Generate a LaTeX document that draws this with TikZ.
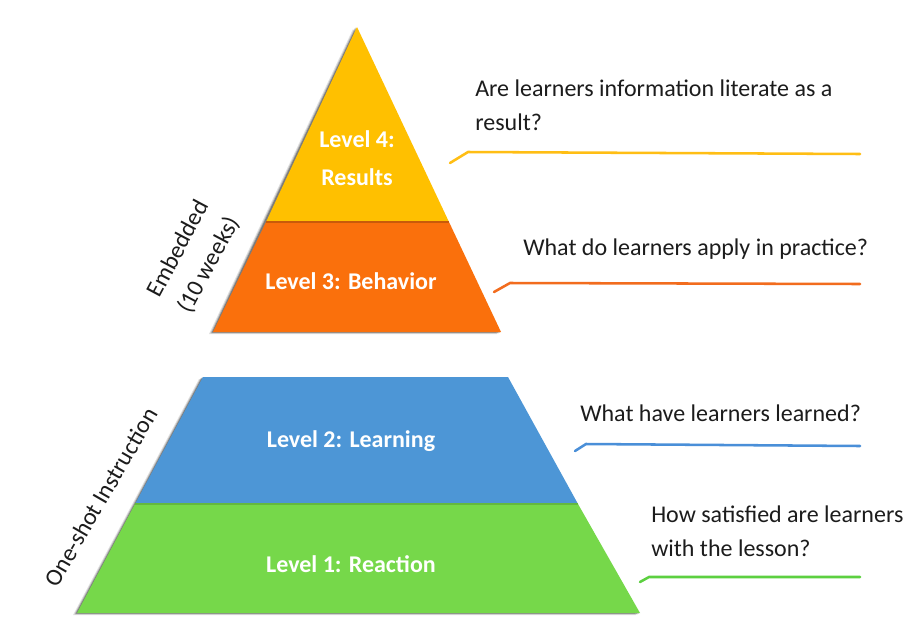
\documentclass[tikz,border=0pt]{standalone}
\usepackage{fontspec}
\setmainfont{Carlito}
\definecolor{cyel}{RGB}{255,192,0}
\definecolor{corg}{RGB}{250,112,12}
\definecolor{cblu}{RGB}{77,150,214}
\definecolor{cgrn}{RGB}{118,216,74}
\definecolor{ctxt}{RGB}{28,28,28}
\definecolor{lyel}{RGB}{255,190,20}
\definecolor{lorg}{RGB}{242,108,30}
\definecolor{lblu}{RGB}{74,143,216}
\definecolor{lgrn}{RGB}{92,208,64}
\begin{document}
\begin{tikzpicture}[x=0.75pt,y=-0.75pt,
  lvl/.style={text=white,font=\fontsize{18}{29}\selectfont\bfseries,align=center,inner sep=0},
  qtext/.style={text=ctxt,font=\fontsize{18}{25.5}\selectfont,anchor=west,align=left,inner sep=0},
  side/.style={text=ctxt,font=\fontsize{18}{26}\selectfont,align=center,inner sep=0},
  lead/.style={line width=1.9pt,line join=round,line cap=round},
  shade/.style={fill=black}]
\useasboundingbox (0,0) rectangle (909,618);
\fill[white] (0,0) rectangle (909,618);

% shadows
\foreach \d/\o in {4/0.12,2.5/0.2,1.2/0.3}{
  \fill[shade,opacity=\o,shift={(-\d,\d*0.5)}] (357,27) -- (501,332) -- (213,332) -- cycle;
  \fill[shade,opacity=\o,shift={(-\d,\d*0.5)}] (203,377) -- (508,377) -- (640,613) -- (77,613) -- cycle;
}
% upper pyramid
\fill[cyel] (357,27) -- (449,222) -- (266,222) -- cycle;
\fill[corg] (266,222) -- (449,222) -- (501,332) -- (213,332) -- cycle;
\draw[corg!80!black,line width=0.8pt] (266,222) -- (449,222);
% lower trapezoid
\fill[cblu] (203,377) -- (508,377) -- (578,504) -- (135,504) -- cycle;
\fill[cgrn] (135,504) -- (578,504) -- (640,613) -- (77,613) -- cycle;
\draw[cgrn!85!black,line width=0.8pt] (135,504) -- (578,504);

% level labels
\node[lvl] (l4) at (357,158) {Level 4:\\Results};
\node[lvl] (l3) at (351,281) {Level 3: Behavior};
\node[lvl] (l2) at (351,441) {Level 2: Learning};
\node[lvl] (l1) at (351,564) {Level 1: Reaction};

% questions
\node[qtext] (q4) at (475,105) {Are learners information literate as a\\result?};
\node[qtext] (q3) at (523,249) {What do learners apply in practice?};
\node[qtext] (q2) at (580,413) {What have learners learned?};
\node[qtext] (q1) at (651,531) {How satisfied are learners\\with the lesson?};

% side labels
\node[side,rotate=62] (emb) at (194,257) {Embedded\\(10 weeks)};
\node[side,rotate=60] (one) at (101,497) {One-shot Instruction};

% leader lines
\coordinate (a4) at (450,163); \coordinate (k4) at (468,152); \coordinate (e4) at (860,154);
\coordinate (a3) at (494,292); \coordinate (k3) at (510,283); \coordinate (e3) at (860,284);
\coordinate (a2) at (575,451); \coordinate (k2) at (586,444); \coordinate (e2) at (860,446);
\coordinate (a1) at (640,582); \coordinate (k1) at (649,577); \coordinate (e1) at (860,577);
\draw[lead,lyel] (a4) -- (k4) -- (e4);
\draw[lead,lorg] (a3) -- (k3) -- (e3);
\draw[lead,lblu] (a2) -- (k2) -- (e2);
\draw[lead,lgrn] (a1) -- (k1) -- (e1);
\end{tikzpicture}
\end{document}
